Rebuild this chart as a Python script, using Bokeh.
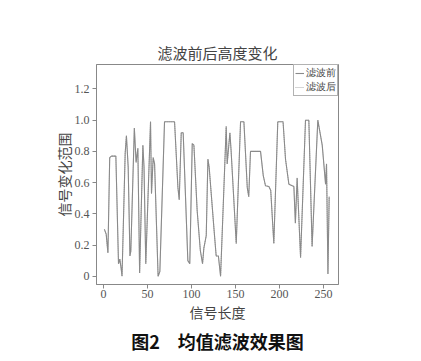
from bokeh.plotting import figure
from bokeh.models import (Range1d, FixedTicker, CustomJSTickFormatter, Legend,
                          LegendItem, Title)
from bokeh.embed import file_html
from bokeh.resources import INLINE

# ---- data (vertices) ----
sample_index = [1, 3, 5, 7, 9, 14, 17, 18.5, 20, 21, 24.6, 26, 28, 30, 31, 35, 37, 39,
                41, 44.7, 46, 48, 53.4, 54.5, 56.4, 58, 62, 64, 69.3, 80.7, 84.5, 86,
                88.3, 90.5, 95.8, 98, 100.8, 102.7, 106.4, 110, 112.5, 114, 116.7,
                118.6, 120, 125.4, 128, 130.5, 133, 139.4, 140.5, 143.6, 145, 150.8,
                155.7, 159.5, 163.3, 165, 167, 178.4, 181.5, 184, 187.9, 190, 193.5,
                198, 204, 206.8, 210.6, 216.3, 218, 220, 223.9, 229.5, 233.3, 237,
                243.5, 248.5, 252.3, 253.4, 255, 256.4]
before_filter = [0.30, 0.27, 0.15, 0.76, 0.77, 0.77, 0.08, 0.11, 0.05, 0.0, 0.79, 0.90,
                 0.70, 0.13, 0.16, 0.95, 0.73, 0.82, 0.02, 0.84, 0.70, 0.08, 0.99, 0.53,
                 0.76, 0.72, 0.0, 0.03, 0.99, 0.99, 0.57, 0.49, 0.92, 0.92, 0.10, 0.08,
                 0.85, 0.84, 0.42, 0.165, 0.08, 0.18, 0.26, 0.75, 0.70, 0.31, 0.13,
                 0.13, 0.0, 0.96, 0.72, 0.92, 0.80, 0.21, 0.99, 0.99, 0.57, 0.51, 0.80,
                 0.80, 0.645, 0.58, 0.575, 0.55, 0.21, 0.99, 0.99, 0.75, 0.59, 0.575,
                 0.34, 0.63, 0.12, 1.0, 1.0, 0.19, 1.0, 0.84, 0.59, 0.72, 0.015, 0.51]
after_filter = [0.30, 0.27, 0.15, 0.76, 0.77, 0.77, 0.08, 0.11, 0.05, 0.0, 0.79, 0.90,
                0.70, 0.13, 0.16, 0.95, 0.73, 0.82, 0.02, 0.84, 0.70, 0.08, 0.99, 0.53,
                0.76, 0.72, 0.0, 0.03, 0.99, 0.99, 0.57, 0.49, 0.92, 0.92, 0.10, 0.08,
                0.85, 0.84, 0.42, 0.165, 0.08, 0.18, 0.26, 0.75, 0.70, 0.31, 0.13,
                0.13, 0.0, 0.96, 0.72, 0.92, 0.80, 0.21, 0.99, 0.99, 0.57, 0.51, 0.80,
                0.80, 0.645, 0.58, 0.575, 0.55, 0.21, 0.99, 0.99, 0.75, 0.59, 0.575,
                0.34, 0.63, 0.12, 1.0, 1.0, 0.19, 1.0, 0.84, 0.59, 0.72, 0.015, 0.51]
x_ticks = [0, 50, 100, 150, 200, 250]
y_ticks = [0, 0.2, 0.4, 0.6, 0.8, 1.0, 1.2]

title_text = "滤波前后高度变化"
x_label = "信号长度"
y_label = "信号变化范围"
caption = "图2　均值滤波效果图"
legend_labels = ["滤波前", "滤波后"]

CJK = "Noto Sans CJK SC"
SERIF = "Liberation Serif"
AX = "#888888"
LINE = "#8a8a8a"

p = figure(width=421, height=361, output_backend="svg", toolbar_location=None,
           x_range=Range1d(-8, 267), y_range=Range1d(-0.053, 1.357),
           min_border_left=96, min_border_right=83, min_border_top=64,
           min_border_bottom=77)

p.title.text = title_text
p.title.align = "center"
p.title.text_font = CJK
p.title.text_font_size = "15px"
p.title.text_font_style = "normal"
p.title.text_color = "#444444"
p.title.offset = 0
p.title.standoff = 4

# filtered series drawn first (dotted), unfiltered solid on top
r2 = p.line(sample_index, after_filter, line_color="#aaaaaa", line_width=1,
            line_dash="1 1")
r1 = p.line(sample_index, before_filter, line_color=LINE, line_width=1.1)

p.xgrid.visible = False
p.ygrid.visible = False
p.outline_line_color = AX
p.outline_line_width = 1

for ax in (p.xaxis[0], p.yaxis[0]):
    ax.axis_line_color = AX
    ax.major_tick_line_color = AX
    ax.minor_tick_line_color = None
    ax.major_tick_out = 4
    ax.major_tick_in = 0
    ax.major_label_text_font = SERIF
    ax.major_label_text_font_size = "12px"
    ax.major_label_text_color = "#555555"
    ax.axis_label_text_font = CJK
    ax.axis_label_text_font_style = "normal"
    ax.axis_label_text_color = "#444444"

p.xaxis.ticker = FixedTicker(ticks=x_ticks)
p.yaxis.ticker = FixedTicker(ticks=y_ticks)
p.yaxis.formatter = CustomJSTickFormatter(
    code="return tick == 0 ? '0' : tick.toFixed(1);")
p.xaxis.axis_label = x_label
p.yaxis.axis_label = y_label
p.xaxis.axis_label_text_font_size = "14px"
p.yaxis.axis_label_text_font_size = "14px"
p.xaxis.major_label_standoff = 1
p.yaxis.major_label_standoff = 3
p.xaxis.axis_label_standoff = 1
p.yaxis.axis_label_standoff = -2

legend = Legend(items=[LegendItem(label=legend_labels[0], renderers=[r1]),
                       LegendItem(label=legend_labels[1], renderers=[r2])],
                location="top_right", margin=0, padding=1, spacing=0,
                glyph_width=9, glyph_height=8, label_standoff=2,
                label_text_font=SERIF, label_text_font_size="10px",
                label_text_line_height=0.9,
                label_text_color="#444444", label_height=8,
                border_line_color="#666666", background_fill_alpha=1)
p.add_layout(legend)

cap = Title(text=caption, align="center", text_font=CJK, text_font_size="18px",
            text_font_style="bold", text_color="#111111", standoff=2)
p.add_layout(cap, "below")

open("out.html", "w").write(file_html(p, INLINE))
